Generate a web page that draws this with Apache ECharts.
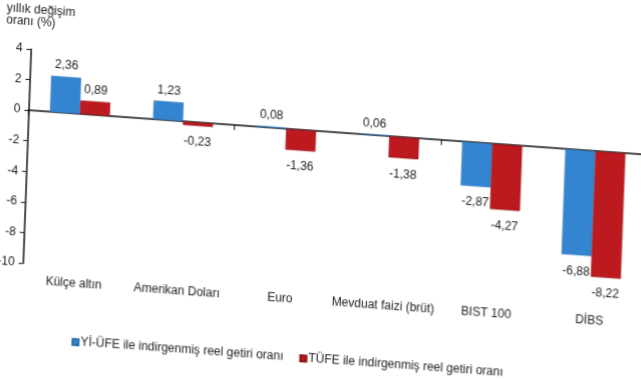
<!DOCTYPE html>
<html>
<head>
<meta charset="utf-8">
<script src="https://cdn.jsdelivr.net/npm/echarts@6/dist/echarts.min.js"></script>
<style>
  html, body { margin: 0; padding: 0; width: 641px; height: 380px; overflow: hidden; background: #fff; }
  #chart { position: absolute; left: 0; top: 0; width: 700px; height: 420px;
           transform-origin: 27px 109px; transform: matrix(1, 0.072, -0.037, 1, 0, 0); }
</style>
</head>
<body>
<div id="chart"></div>
<script>
const categories = ['Külçe altın', 'Amerikan Doları', 'Euro', 'Mevduat faizi (brüt)', 'BIST 100', 'DİBS'];
const yiUfe = [2.36, 1.23, 0.08, 0.06, -2.87, -6.88];
const tufe = [0.89, -0.23, -1.36, -1.38, -4.27, -8.22];
const seriesNames = ['Yİ-ÜFE ile indirgenmiş reel getiri oranı', 'TÜFE ile indirgenmiş reel getiri oranı'];
const yTicks = { min: -10, max: 4, interval: 2 };

const font = 'Liberation Sans, Arial, sans-serif';
const fmt = v => v.toFixed(2).replace('.', ',');
function labelled(vals) {
  return vals.map(v => ({
    value: v,
    label: { position: v >= 0 ? 'top' : 'bottom', distance: v >= 0 ? 5 : 10 }
  }));
}

const chart = echarts.init(document.getElementById('chart'), null, { renderer: 'canvas' });
chart.setOption({
  animation: false,
  backgroundColor: '#fff',
  title: {
    text: 'yıllık değişim\noranı (%)',
    left: -2, top: -1,
    textStyle: { fontFamily: font, fontSize: 12, fontWeight: 'normal', color: '#222', lineHeight: 12 }
  },
  legend: {
    data: seriesNames,
    left: 75, top: 327,
    icon: 'rect', itemWidth: 6, itemHeight: 6, itemGap: 16,
    textStyle: { fontFamily: font, fontSize: 12, color: '#222', padding: [0, 0, 0, -3] }
  },
  grid: { left: 27, top: 49, width: 620, height: 214, containLabel: false },
  xAxis: [
    {
      type: 'category', data: categories,
      axisLine: { onZero: true, lineStyle: { color: '#111', width: 1.5 } },
      axisTick: { show: true, length: 5, lineStyle: { color: '#111' } },
      axisLabel: { show: false }
    },
    {
      type: 'category', data: categories, position: 'bottom',
      axisLine: { show: false, onZero: false },
      axisTick: { show: false },
      axisLabel: { margin: 11, fontFamily: font, fontSize: 12, color: '#222', interval: 0 }
    }
  ],
  yAxis: {
    type: 'value', min: yTicks.min, max: yTicks.max, interval: yTicks.interval,
    axisLine: { show: true, lineStyle: { color: '#111', width: 1.5 } },
    axisTick: { show: true, length: 4, lineStyle: { color: '#111' } },
    splitLine: { show: false },
    axisLabel: { margin: 8, fontFamily: font, fontSize: 12, color: '#222' }
  },
  series: [
    {
      name: seriesNames[0], type: 'bar', xAxisIndex: 0, data: labelled(yiUfe),
      barWidth: 30, barGap: '0%',
      itemStyle: { color: '#3385d1', borderColor: '#2a6fb0', borderWidth: 0.5 },
      label: { show: true, formatter: p => fmt(p.value), fontFamily: font, fontSize: 12, color: '#222' }
    },
    {
      name: seriesNames[1], type: 'bar', xAxisIndex: 0, data: labelled(tufe),
      barWidth: 30, barGap: '0%',
      itemStyle: { color: '#bd1a1f', borderColor: '#8e1216', borderWidth: 0.5 },
      label: { show: true, formatter: p => fmt(p.value), fontFamily: font, fontSize: 12, color: '#222' }
    }
  ]
});
</script>
</body>
</html>
